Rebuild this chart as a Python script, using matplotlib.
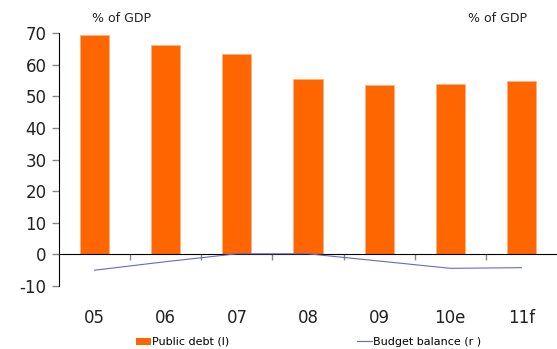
import matplotlib
matplotlib.use("Agg")
import matplotlib.pyplot as plt
import numpy as np
from matplotlib.patches import Patch
from matplotlib.lines import Line2D

categories = ["05", "06", "07", "08", "09", "10e", "11f"]
public_debt = [69.6, 66.4, 63.5, 55.6, 53.7, 54.0, 54.9]
budget_balance = [-5.0, -2.3, 0.2, 0.2, -2.1, -4.4, -4.2]
yticks = [-10, 0, 10, 20, 30, 40, 50, 60, 70]

fig = plt.figure(figsize=(5.57, 3.49), dpi=100)
ax = fig.add_axes([0.106, 0.1805, 0.894, 0.7241])
x = np.arange(len(categories))
ax.bar(x, public_debt, width=0.41, color="#FF6600", edgecolor="#FFB080", linewidth=0.6, zorder=2)
ax.plot(x, budget_balance, color="#6666CC", linewidth=0.8, zorder=3)

ax.set_xlim(-0.5, 6.5)
ax.set_ylim(-10, 70)
ax.set_yticks(yticks)
ax.set_yticklabels([str(t) for t in yticks], fontsize=12, color="#222222")
ax.tick_params(axis="y", direction="out", length=5, color="#888888", width=1, pad=4)

for s in ["top", "right"]:
    ax.spines[s].set_visible(False)
ax.spines["bottom"].set_position(("data", 0))
ax.spines["bottom"].set_color("black")
ax.spines["left"].set_color("black")

ax.set_xticks(x)
ax.set_xticklabels(categories, fontsize=12, color="#222222")
ax.set_xticks(x[:-1] + 0.5, minor=True)
ax.tick_params(axis="x", which="major", length=0, pad=39)
ax.tick_params(axis="x", which="minor", direction="out", length=4, color="#888888", width=1)

fig.text(122 / 557, 1 - 19 / 349, "% of GDP", fontsize=9, ha="center", va="center", color="#222222")
fig.text(498 / 557, 1 - 19 / 349, "% of GDP", fontsize=9, ha="center", va="center", color="#222222")

handles = [Patch(facecolor="#FF6600", edgecolor="none"),
           Line2D([0], [0], color="#6666CC", linewidth=0.8)]
leg1 = fig.legend([handles[0]], ["Public debt (l)"], loc="center left",
                  bbox_to_anchor=(130 / 557, 1 - 342 / 349), frameon=False, fontsize=8,
                  handlelength=1.4, handleheight=0.6, handletextpad=0.1, borderpad=0)
leg2 = fig.legend([handles[1]], ["Budget balance (r )"], loc="center left",
                  bbox_to_anchor=(351 / 557, 1 - 342 / 349), frameon=False, fontsize=8,
                  handlelength=1.4, handletextpad=0.1, borderpad=0)

fig.savefig("out.png", dpi=100)
